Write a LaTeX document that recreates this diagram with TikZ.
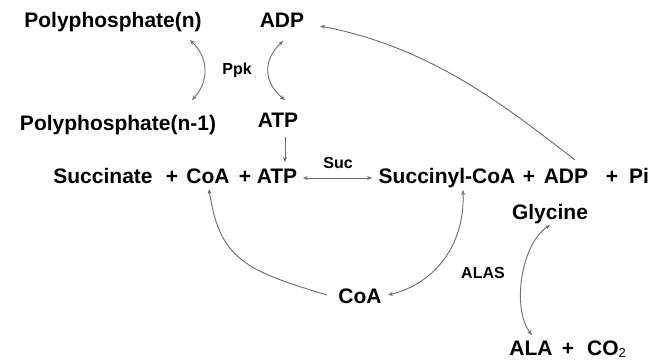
\documentclass[tikz,border=0pt]{standalone}
\usepackage{fontspec}
\setmainfont{Liberation Sans}
\usetikzlibrary{arrows.meta}
\begin{document}
\begin{tikzpicture}[x=1pt,y=-1pt,
  lbl/.style={font=\fontsize{21}{24}\selectfont\bfseries, inner sep=0pt, anchor=base},
  enz/.style={font=\fontsize{16}{18}\selectfont\bfseries, inner sep=0pt, anchor=base},
  conn/.style={draw=black!58, line width=0.9pt},
  both/.style={conn, {Stealth[length=5pt,width=4pt]}-{Stealth[length=5pt,width=4pt]}},
  fwd/.style={conn, -{Stealth[length=5pt,width=4pt]}}
]
\useasboundingbox (0,0) rectangle (654,361);

% labels
\node[lbl] (polyn) at (113,28) {Polyphosphate(n)};
\node[lbl] (polyn1) at (118,130) {Polyphosphate(n-1)};
\node[lbl] (adpu) at (282,28) {ADP};
\node[lbl] (atpu) at (278,128) {ATP};
\node[enz] (ppk) at (237,75) {Ppk};

\node[lbl] (succ) at (103,183) {Succinate};
\node[lbl] (p1) at (172,183) {+};
\node[lbl] (coa1) at (208,183) {CoA};
\node[lbl] (p2) at (245,183) {+};
\node[lbl] (atp1) at (277,183) {ATP};
\node[enz] (suc) at (338,168) {Suc};

\node[lbl] (sucoa) at (447,183) {Succinyl-CoA};
\node[lbl] (p3) at (529,183) {+};
\node[lbl] (adp2) at (566,183) {ADP};
\node[lbl] (p4) at (612,183) {+};
\node[lbl] (pi) at (639,183) {Pi};

\node[lbl] (gly) at (550,219) {Glycine};
\node[lbl] (coa2) at (360,303) {CoA};
\node[enz] (alas) at (483,278) {ALAS};
\node[lbl] (ala) at (531,355) {ALA};
\node[lbl] (p5) at (568,355) {+};
\node[lbl, anchor=base west] (co2) at (587,355) {CO\raisebox{-2pt}{\fontsize{13}{13}\selectfont\mdseries 2}};

% connector end points
\coordinate (a1) at (190,40);
\coordinate (a2) at (192,100);
\coordinate (b1) at (283,41);
\coordinate (b2) at (285,100);
\coordinate (c1) at (285,137);
\coordinate (c2) at (285,162);
\coordinate (d1) at (303,178);
\coordinate (d2) at (372,178);
\coordinate (e1) at (575,160);
\coordinate (e2) at (320,26);
\coordinate (f1) at (327,295);
\coordinate (f2) at (209,189);
\coordinate (g1) at (463,190);
\coordinate (g2) at (388,295);
\coordinate (h1) at (550,225);
\coordinate (h2) at (532,335);

% connectors
\draw[both] (a1) .. controls (209,58) and (209,82) .. (a2);
\draw[both] (b1) .. controls (263,60) and (263,82) .. (b2);
\draw[fwd] (c1) -- (c2);
\draw[both] (d1) -- (d2);
\draw[fwd] (e1) .. controls (504,105) and (430,47) .. (e2);
\draw[fwd] (f1) .. controls (247,271) and (219.5,260) .. (f2);
\draw[both] (g1) .. controls (465,250) and (430,285) .. (g2);
\draw[both] (h1) .. controls (520,245) and (512,310) .. (h2);
\end{tikzpicture}
\end{document}
